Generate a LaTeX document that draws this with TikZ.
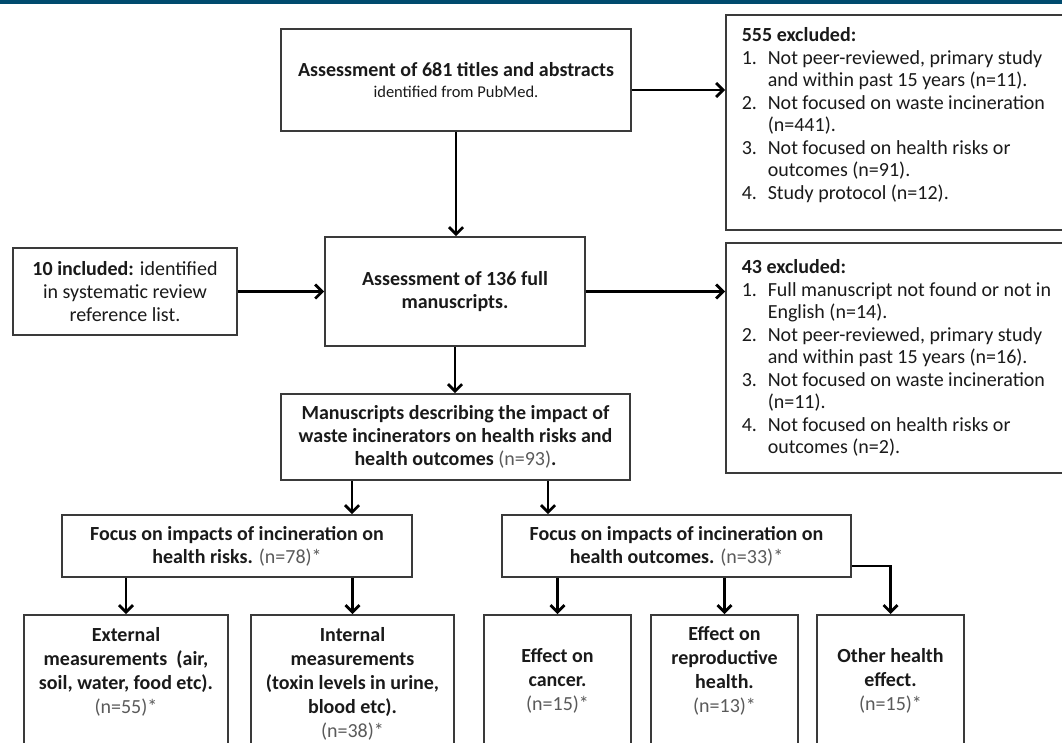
\documentclass[tikz,border=0pt]{standalone}
\usepackage{fontspec}
\setmainfont{Carlito}
\usetikzlibrary{arrows.meta}
\definecolor{barblue}{HTML}{004B6E}
\definecolor{ngray}{HTML}{5A5A5A}
\definecolor{bordergray}{HTML}{3A3A3A}
\definecolor{txt}{HTML}{1A1A1A}
\newcommand{\nnum}[1]{{\mdseries\color{ngray}#1}}
\newcommand{\litem}[2]{\makebox[26pt][l]{#1}#2}
\newcommand{\lcont}[1]{\hspace*{26pt}#1}
\begin{document}
\begin{tikzpicture}[x=1pt,y=-1pt,
  box/.style={draw=bordergray, line width=1.6pt, fill=white, inner sep=0pt, text=txt,
    font=\fontsize{20}{23}\selectfont\bfseries, align=center},
  exbox/.style={box, anchor=north west, inner xsep=16pt, align=left,
    font=\fontsize{20}{22.5}\selectfont\mdseries},
  botbox/.style={box, anchor=north, font=\fontsize{20}{24}\selectfont\bfseries},
  arr/.style={line width=2.8pt, -{Straight Barb[length=7pt,width=14pt]}},
]
\useasboundingbox (0,0) rectangle (1062,742);
\fill[barblue] (0,0) rectangle (1062,3.5);

% top row
\node[box, minimum width=350pt, minimum height=102pt] (A) at (456,80)
  {Assessment of 681 titles and abstracts\\[-2pt]
   {\fontsize{16.5}{20}\selectfont\mdseries identified from PubMed.}};
\node[exbox, inner ysep=11pt] (ex1) at (725,14)
  {\parbox[t][193pt][t]{330pt}{\raggedright\strut\textbf{555 excluded:}\\
   \litem{1.}{Not peer-reviewed, primary study}\\
   \lcont{and within past 15 years (n=11).}\\
   \litem{2.}{Not focused on waste incineration}\\
   \lcont{(n=441).}\\
   \litem{3.}{Not focused on health risks or}\\
   \lcont{outcomes (n=91).}\\
   \litem{4.}{Study protocol (n=12).}}};

% second row
\node[box, minimum width=224pt, minimum height=87pt, font=\fontsize{20}{23}\selectfont\mdseries] (inc) at (125,291.5)
  {\textbf{10 included:} identified\\ in systematic review\\ reference list.};
\node[box, minimum width=260pt, minimum height=109pt] (B) at (455,291.5)
  {Assessment of 136 full\\ manuscripts.};
\node[exbox, inner ysep=15pt] (ex2) at (725,242)
  {\parbox[t][200pt][t]{330pt}{\raggedright\strut\textbf{43 excluded:}\\
   \litem{1.}{Full manuscript not found or not in}\\
   \lcont{English (n=14).}\\
   \litem{2.}{Not peer-reviewed, primary study}\\
   \lcont{and within past 15 years (n=16).}\\
   \litem{3.}{Not focused on waste incineration}\\
   \lcont{(n=11).}\\
   \litem{4.}{Not focused on health risks or}\\
   \lcont{outcomes (n=2).}}};

% third row
\node[box, minimum width=349pt, minimum height=86pt] (C) at (455.5,437)
  {Manuscripts describing the impact of\\ waste incinerators on health risks and\\ health outcomes \nnum{(n=93)}.};

% fourth row
\node[box, minimum width=350pt, minimum height=62pt] (D) at (237,546)
  {Focus on impacts of incineration on\\ health risks. \nnum{(n=78)*}};
\node[box, minimum width=349pt, minimum height=62pt] (E) at (676.5,546)
  {Focus on impacts of incineration on\\ health outcomes. \nnum{(n=33)*}};

% bottom row
\node[botbox, inner ysep=10pt] (ext) at (126,614)
  {\parbox[t][160pt][t]{204pt}{\centering\strut External\\ measurements\ \ (air,\\ soil, water, food etc).\\ \nnum{(n=55)*}}};
\node[botbox, inner ysep=10pt] (int) at (352.5,614)
  {\parbox[t][160pt][t]{203pt}{\centering\strut Internal\\ measurements\\ (toxin levels in urine,\\ blood etc).\\ \nnum{(n=38)*}}};
\node[botbox, inner ysep=31pt] (can) at (557.5,614)
  {\parbox[t][160pt][t]{147pt}{\centering\strut Effect on\\ cancer.\\ \nnum{(n=15)*}}};
\node[botbox, inner ysep=9pt] (rep) at (724.5,614)
  {\parbox[t][160pt][t]{147pt}{\centering\strut Effect on\\ reproductive\\ health.\\ \nnum{(n=13)*}}};
\node[botbox, inner ysep=31pt] (oth) at (890.5,614)
  {\parbox[t][160pt][t]{147pt}{\centering\strut Other health\\ effect.\\ \nnum{(n=15)*}}};

% connectors
\coordinate (a1) at ([yshift=-10pt]A.east);
\draw[arr] (a1) -- (a1 -| ex1.west);
\draw[arr] (A.south) -- (A.south |- B.north);
\draw[arr] (inc.east) -- (inc.east -| B.west);
\draw[arr] (B.east) -- (B.east -| ex2.west);
\draw[arr] (B.south) -- (B.south |- C.north);
\coordinate (xc1) at (352,0);
\coordinate (xc2) at (548,0);
\draw[arr] (xc1 |- C.south) -- (xc1 |- D.north);
\draw[arr] (xc2 |- C.south) -- (xc2 |- E.north);
\draw[arr] (D.south -| ext.north) -- (ext.north);
\draw[arr] (D.south -| int.north) -- (int.north);
\draw[arr] (E.south -| can.north) -- (can.north);
\draw[arr] (E.south -| rep.north) -- (rep.north);
\coordinate (e1) at ([yshift=-20pt]E.east);
\draw[arr] (e1) -| (oth.north);
\end{tikzpicture}
\end{document}
